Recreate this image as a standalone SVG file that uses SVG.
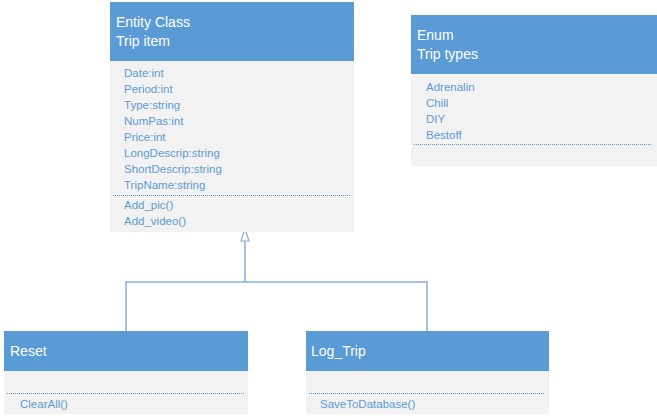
<svg xmlns="http://www.w3.org/2000/svg" width="657" height="418" viewBox="0 0 657 418">
<style>
.hdr{fill:#5B9BD5}
.body{fill:#F2F2F2}
.t{font-family:"Liberation Sans",Arial,sans-serif;font-size:14px;fill:#FFFFFF}
.m{font-family:"Liberation Sans",Arial,sans-serif;font-size:11.5px;fill:#5B9BD5}
.sep{stroke:#5B9BD5;stroke-width:1;stroke-dasharray:1 1;fill:none}
.conn{stroke:#86B0DE;stroke-width:1.5;fill:none}
.arrow{fill:#FFFFFF;stroke:#86B0DE;stroke-width:1.2}
</style>
<rect width="657" height="418" fill="#FFFFFF"/>
<g id="connectors">
<path class="conn" d="M126,331 V282 H427 V331"/>
<path class="conn" d="M245,282 V241"/>
<path class="arrow" d="M245,229 L241,241 L249,241 Z"/>
</g>
<g id="entity-class">
<rect class="body" x="110" y="61" width="244" height="171"/>
<rect class="hdr" x="110" y="2" width="244" height="59"/>
<text class="t" x="116" y="27">Entity Class</text>
<text class="t" x="116" y="46">Trip item</text>
<text class="m" x="124" y="77">Date:int</text>
<text class="m" x="124" y="93">Period:int</text>
<text class="m" x="124" y="109">Type:string</text>
<text class="m" x="124" y="125">NumPas:int</text>
<text class="m" x="124" y="141">Price:int</text>
<text class="m" x="124" y="157">LongDescrip:string</text>
<text class="m" x="124" y="173">ShortDescrip:string</text>
<text class="m" x="124" y="189">TripName:string</text>
<line class="sep" x1="113" y1="195.5" x2="350" y2="195.5"/>
<text class="m" x="124" y="209">Add_pic()</text>
<text class="m" x="124" y="225">Add_video()</text>
</g>
<g id="enum">
<rect class="body" x="411" y="74" width="246" height="92"/>
<rect class="hdr" x="411" y="15" width="246" height="59"/>
<text class="t" x="417" y="40">Enum</text>
<text class="t" x="417" y="59">Trip types</text>
<text class="m" x="426" y="91">Adrenalin</text>
<text class="m" x="426" y="107">Chill</text>
<text class="m" x="426" y="123">DIY</text>
<text class="m" x="426" y="139">Bestoff</text>
<line class="sep" x1="414" y1="144.5" x2="651" y2="144.5"/>
</g>
<g id="reset">
<rect class="body" x="4" y="371" width="244" height="43"/>
<rect class="hdr" x="4" y="331" width="244" height="40"/>
<text class="t" x="10" y="356">Reset</text>
<line class="sep" x1="7" y1="393.5" x2="244" y2="393.5"/>
<text class="m" x="20" y="408">ClearAll()</text>
</g>
<g id="log-trip">
<rect class="body" x="306" y="371" width="243" height="43"/>
<rect class="hdr" x="306" y="331" width="243" height="40"/>
<text class="t" x="311" y="356">Log_Trip</text>
<line class="sep" x1="309" y1="393.5" x2="545" y2="393.5"/>
<text class="m" x="320" y="408">SaveToDatabase()</text>
</g>
</svg>
